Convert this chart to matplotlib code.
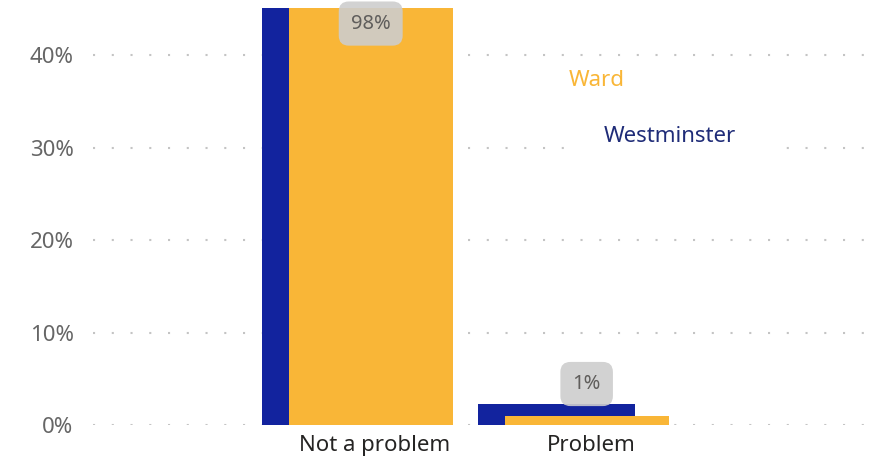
import matplotlib
matplotlib.use('Agg')
import matplotlib.pyplot as plt
import numpy as np

plt.rcParams['font.family'] = ['Noto Sans', 'DejaVu Sans']

categories = ['Not a problem', 'Problem']
ward = [98, 1]
westminster = [97, 2.3]
y_ticks = [0, 10, 20, 30, 40]

ward_color = '#F9B637'
westminster_color = '#12239E'

fig = plt.figure(figsize=(8.8, 4.62), dpi=100)
ax = fig.add_axes([93 / 880, 1 - 425 / 462, 772 / 880, 417 / 462])

x = np.arange(len(categories))
ax.bar(x - 0.16, westminster, 0.73, color=westminster_color, zorder=2)
ax.bar(x - 0.02, ward, 0.76, color=ward_color, zorder=3)

ax.set_xlim(-1.306, 2.269)
ax.set_ylim(0, 45.1)

ax.set_yticks(y_ticks)
ax.set_yticklabels([f'{t}%' for t in y_ticks])
ax.set_xticks(x)
ax.set_xticklabels(categories)
ax.tick_params(axis='y', length=0, pad=14, labelsize=16, labelcolor='#666666')
ax.tick_params(axis='x', length=0, pad=7, labelsize=16, labelcolor='#252423')

ax.grid(True, axis='y', color='#c4c4c4', linestyle=(0, (1, 8)), linewidth=1.5)
ax.set_axisbelow(True)
for s in ax.spines.values():
    s.set_visible(False)

# data labels (ward values), kept inside visible area
top = ax.get_ylim()[1]
for i in range(len(categories)):
    if ward[i] > top:
        yy, off, va = top, -4, 'top'
    else:
        yy, off, va = max(ward[i], westminster[i]), 7, 'bottom'
    ax.annotate(f'{ward[i]:.0f}%', (x[i] - 0.02, yy), xytext=(0, off),
                textcoords='offset points', ha='center', va=va,
                fontsize=14.5, color='#605e5c', zorder=6,
                bbox=dict(boxstyle='round,pad=0.6,rounding_size=0.5',
                          facecolor='#cdcdcd', alpha=0.9, edgecolor='none'))

# legend-like labels
fig.text(597 / 880, 1 - 80 / 462, 'Ward', color=ward_color, fontsize=16,
         ha='center', va='center')
fig.text(670 / 880, 1 - 137 / 462, 'Westminster', color='#1F2C78', fontsize=16,
         ha='center', va='center',
         bbox=dict(facecolor='white', edgecolor='none', pad=28))

fig.savefig('out.png', dpi=100)
